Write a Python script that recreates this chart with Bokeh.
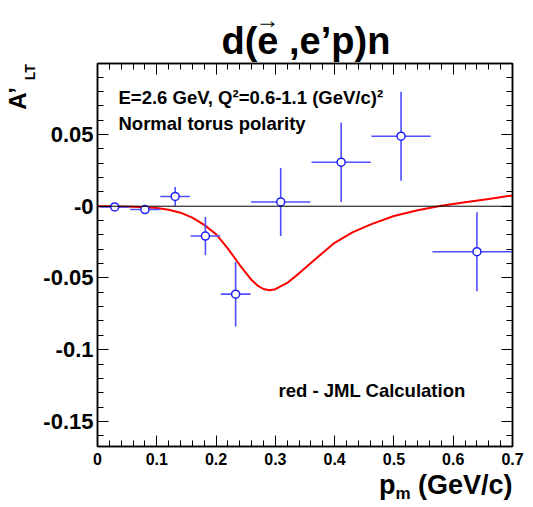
import numpy as np
from bokeh.plotting import figure
from bokeh.models import (Range1d, FixedTicker, LinearAxis, Label, Span, ColumnDataSource, Title)
from bokeh.embed import file_html
from bokeh.resources import INLINE

# ---------------- data ----------------
pm = [0.029, 0.080, 0.131, 0.182, 0.233, 0.309, 0.411, 0.512, 0.640]
alt = [-0.0005, -0.0023, 0.0068, -0.0208, -0.0613, 0.0030, 0.0307, 0.0488, -0.0317]
alt_err = [0.0015, 0.0020, 0.0066, 0.0133, 0.0225, 0.0237, 0.0277, 0.0310, 0.0275]
pm_err = [0.025, 0.025, 0.025, 0.025, 0.025, 0.050, 0.050, 0.050, 0.075]

calc_pm = [0.00, 0.02, 0.04, 0.06, 0.08, 0.10, 0.12, 0.14, 0.16, 0.18, 0.20, 0.22,
           0.24, 0.26, 0.27, 0.28, 0.29, 0.30, 0.32, 0.34, 0.36, 0.38, 0.40, 0.43,
           0.46, 0.50, 0.54, 0.58, 0.62, 0.66, 0.70]
calc_alt = [0.0, 0.0, -0.0002, -0.0004, -0.0008, -0.0013, -0.0024, -0.0045, -0.0080,
            -0.0130, -0.0195, -0.0295, -0.0410, -0.0515, -0.0553, -0.0577, -0.0585,
            -0.0578, -0.0535, -0.0468, -0.0395, -0.0325, -0.0255, -0.0182, -0.0128,
            -0.0068, -0.0028, 0.0004, 0.0027, 0.0050, 0.0075]

x_ticks = [0, 0.1, 0.2, 0.3, 0.4, 0.5, 0.6, 0.7]
x_tick_labels = ["0", "0.1", "0.2", "0.3", "0.4", "0.5", "0.6", "0.7"]
y_ticks = [-0.15, -0.1, -0.05, 0, 0.05]
y_tick_labels = ["-0.15", "-0.1", "-0.05", "-0", "0.05"]

X_RANGE = (0.0, 0.7)
Y_RANGE = (-0.1675, 0.0995)

FONT = "Liberation Sans"
FL, FT, FW, FH = 96, 63, 415, 383   # frame placement in page pixels
NBSP = "\u00a0"

# ---------------- figure ----------------
p = figure(frame_width=FW, frame_height=FH, output_backend="svg", toolbar_location=None,
           title=None,
           x_range=Range1d(*X_RANGE), y_range=Range1d(*Y_RANGE),
           min_border_left=FL, min_border_right=22, min_border_top=FT, min_border_bottom=58)
p.xgrid.visible = False
p.ygrid.visible = False
p.background_fill_color = "white"
p.border_fill_color = "white"
p.outline_line_color = "black"
p.outline_line_width = 1.5

x_minor = [round(v, 3) for v in np.arange(0, 0.7001, 0.02)]
y_minor = [round(v, 3) for v in np.arange(-0.16, 0.0951, 0.01)]

def style_axis(ax, ticks, minor, labels, font_size, show_labels=True, standoff=4):
    ax.ticker = FixedTicker(ticks=ticks, minor_ticks=minor)
    ax.major_tick_in = 11
    ax.major_tick_out = 0
    ax.minor_tick_in = 6
    ax.minor_tick_out = 0
    ax.axis_line_color = "black"
    ax.axis_line_width = 1.5
    ax.major_tick_line_color = "black"
    ax.minor_tick_line_color = "black"
    ax.major_tick_line_width = 1
    ax.minor_tick_line_width = 1
    ax.major_label_text_font = FONT
    ax.major_label_text_font_style = "bold"
    ax.major_label_text_color = "black"
    ax.major_label_standoff = standoff
    if show_labels:
        ax.major_label_overrides = {t: l for t, l in zip(ticks, labels)}
        ax.major_label_text_font_size = font_size
    else:
        ax.major_label_overrides = {t: "" for t in ticks}
        ax.major_label_text_font_size = "1px"
        ax.major_label_standoff = 0

style_axis(p.xaxis[0], x_ticks, x_minor, x_tick_labels, "16px", standoff=6)
style_axis(p.yaxis[0], y_ticks, y_minor, y_tick_labels, "22px", standoff=4)
top_ax = LinearAxis()
right_ax = LinearAxis()
style_axis(top_ax, x_ticks, x_minor, x_tick_labels, "1px", show_labels=False)
style_axis(right_ax, y_ticks, y_minor, y_tick_labels, "1px", show_labels=False)
p.add_layout(top_ax, "above")
p.add_layout(right_ax, "right")

# curve
p.line(calc_pm, calc_alt, line_color="#ff0000", line_width=2)
# zero line
p.add_layout(Span(location=0, dimension="width", line_color="black", line_width=1))

# data with error bars
src = ColumnDataSource(dict(
    x=pm, y=alt,
    x0=[a - b for a, b in zip(pm, pm_err)], x1=[a + b for a, b in zip(pm, pm_err)],
    y0=[a - b for a, b in zip(alt, alt_err)], y1=[a + b for a, b in zip(alt, alt_err)],
))
ebar = "#4f4fff"
p.segment(x0="x0", y0="y", x1="x1", y1="y", source=src, line_color=ebar, line_width=1.6)
p.segment(x0="x", y0="y0", x1="x", y1="y1", source=src, line_color=ebar, line_width=1.6)
p.scatter(x="x", y="y", source=src, marker="circle", size=8, fill_color="white",
          line_color="#1f1fff", line_width=1.5)

# ---------------- text positioned in page pixels ----------------
def dx(px):
    return X_RANGE[0] + (px - FL) / FW * (X_RANGE[1] - X_RANGE[0])

def dy(py):
    return Y_RANGE[1] - (py - FT) / FH * (Y_RANGE[1] - Y_RANGE[0])

def lab(text, px, py, size):
    p.add_layout(Label(x=dx(px), y=dy(py), text=text, text_font=FONT,
                       text_font_size=f"{size}px", text_font_style="bold",
                       text_align="left", text_baseline="alphabetic", text_color="black"))

lab("E=2.6 GeV, Q\u00b2=0.6-1.1 (GeV/c)\u00b2", 117, 97, 18.5)
lab("Normal torus polarity", 117, 123, 18.5)
lab("red - JML Calculation", 277, 390, 18.5)

# y axis title A'_LT: rotated labels of two tick-less axes on the left.
# The label is centred on the frame, so leading no-break spaces push the
# visible characters up to the top of the axis.
def label_axis(text, size, pad, standoff):
    ax = LinearAxis(ticker=FixedTicker(ticks=[]), axis_label=NBSP * pad + text)
    ax.axis_line_color = None
    ax.major_tick_line_color = None
    ax.minor_tick_line_color = None
    ax.major_tick_out = 0
    ax.major_tick_in = 0
    ax.minor_tick_out = 0
    ax.minor_tick_in = 0
    ax.major_label_standoff = 0
    ax.major_label_text_font_size = "1px"
    ax.axis_label_text_font = FONT
    ax.axis_label_text_font_size = f"{size}px"
    ax.axis_label_text_font_style = "bold"
    ax.axis_label_text_color = "black"
    ax.axis_label_standoff = standoff
    p.add_layout(ax, "left")

label_axis("LT", 14, 94, 3)
label_axis("A\u2019", 24, 47, -12)

# ---------------- texts as titles in side panels ----------------
def title(text, side, size, align, offset, valign, standoff, bold=True):
    t = Title(text=text, text_font=FONT, text_font_size=f"{size}px",
              text_font_style="bold" if bold else "normal", text_color="black",
              align=align, offset=offset, vertical_align=valign, standoff=standoff)
    p.add_layout(t, side)

# main title and the arrow over the first e
title("d(e ,e\u2019p)n", "above", 38, "left", 124, "bottom", 4)
title("\u2192", "above", 24, "left", 158, "bottom", -34, bold=False)

# x axis title p_m (GeV/c)
title("p" + NBSP * 3 + "(GeV/c)", "below", 27, "right", 0, "top", 5)
title("m", "below", 17, "right", 102, "top", -42)

open("out.html", "w").write(file_html(p, INLINE))
